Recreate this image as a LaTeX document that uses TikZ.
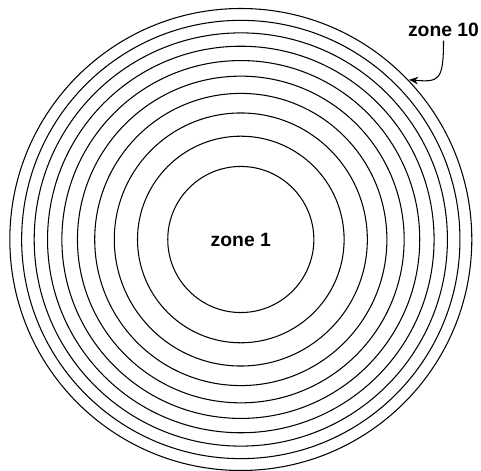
\documentclass[tikz,border=0pt]{standalone}
\usepackage{fontspec}
\setmainfont{Liberation Sans}
\usetikzlibrary{arrows.meta}

\begin{document}
\begin{tikzpicture}[
    >={Stealth[length=1.8mm, width=1.5mm]},
    ring/.style={draw, line width=0.6pt},
    zonetext/.style={font=\fontsize{11}{13}\selectfont\bfseries, inner sep=2pt}
]
    \useasboundingbox (0,0) rectangle (9.62,9.42);
    \coordinate (c) at (4.816,4.63);

    % equal-area zones
    \foreach \k in {1,...,10} {
        \draw[ring] (c) circle [radius={4.62*sqrt(\k/10)}];
    }

    \node[zonetext] (zone1) at (c) {zone 1};
    \node[zonetext] (zone10) at (8.87,8.82) {zone 10};
    \coordinate (edge) at ([shift={(43.5:4.64)}]c);

    \draw[->, line width=0.6pt] (zone10.south) .. controls +(0,-0.8) and +(0.6,-0.05) .. (edge);
\end{tikzpicture}
\end{document}
